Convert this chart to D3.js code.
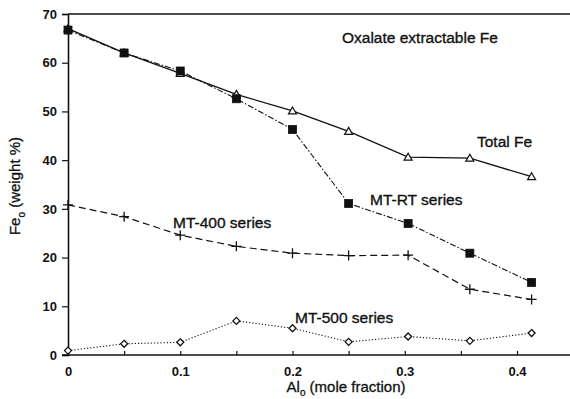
<!DOCTYPE html>
<html><head><meta charset="utf-8">
<script src="https://cdn.jsdelivr.net/npm/d3@7"></script>
<style>body{margin:0;background:#fff}svg{display:block}text{font-family:"Liberation Sans",Arial,sans-serif;fill:#111}</style>
</head><body><svg id="c" width="570" height="399"></svg>
<script>
const alFraction = [0, 0.05, 0.1, 0.15, 0.2, 0.25, 0.303, 0.358, 0.413];
const totalFe = [67.0, 62.0, 57.8, 53.5, 50.1, 45.9, 40.6, 40.4, 36.6];
const mtRT = [66.7, 62.0, 58.3, 52.6, 46.3, 31.1, 27.0, 20.9, 14.9];
const mt400 = [30.8, 28.4, 24.6, 22.3, 20.9, 20.4, 20.5, 13.5, 11.4];
const mt500 = [0.9, 2.3, 2.6, 7.0, 5.5, 2.7, 3.8, 2.9, 4.5];
const xTickLabels = [0, 0.1, 0.2, 0.3, 0.4];
const xMinorTicks = [0.05, 0.15, 0.25, 0.35];
const yTickLabels = [0, 10, 20, 30, 40, 50, 60, 70];

const svg = d3.select("#c");
const x = d3.scaleLinear().domain([0, 0.4]).range([68, 517]);
const y = d3.scaleLinear().domain([0, 70]).range([355, 14]);

svg.append("line").attr("x1", 68).attr("x2", 570).attr("y1", y(70)).attr("y2", y(70)).attr("stroke", "#111").attr("stroke-width", 1.6);

const yAxis = d3.axisLeft(y).tickValues(yTickLabels).tickSize(6).tickPadding(5).tickFormat(d3.format("d"));
const gy = svg.append("g").attr("transform", "translate(68,0)").call(yAxis);
gy.select(".domain").attr("stroke", "#111").attr("stroke-width", 1.6);
gy.selectAll(".tick line").attr("stroke", "#111").attr("stroke-width", 1.2);
gy.selectAll(".tick text").attr("font-size", 13).attr("font-weight", "bold").attr("font-family", "Liberation Sans, Arial, sans-serif").attr("fill", "#111");

const xAxis = d3.axisBottom(x).tickValues(xTickLabels.concat(xMinorTicks)).tickSize(-4).tickPadding(12)
  .tickFormat(d => xTickLabels.includes(d) ? (d === 0 ? "0" : d3.format(".1f")(d)) : "");
const gx = svg.append("g").attr("transform", "translate(0,355)").call(xAxis);
gx.select(".domain").remove();
gx.append("line").attr("x1", 62).attr("x2", 570).attr("stroke", "#111").attr("stroke-width", 1.6);
gx.selectAll(".tick line").attr("stroke", "#111").attr("stroke-width", 1.2);
gx.selectAll(".tick text").attr("font-size", 13).attr("font-weight", "bold").attr("font-family", "Liberation Sans, Arial, sans-serif").attr("fill", "#111");

const line = d3.line().x((d, i) => x(alFraction[i])).y(d => y(d));
const series = [
  {v: totalFe, dash: null, w: 1.3, m: "tri"},
  {v: mtRT, dash: "6,2,1.5,2", w: 1.1, m: "sq"},
  {v: mt400, dash: "7,4", w: 1.2, m: "plus"},
  {v: mt500, dash: "1.2,2", w: 1.1, m: "dia"}
];
series.forEach(s => {
  svg.append("path").attr("d", line(s.v)).attr("fill", "none").attr("stroke", "#111")
    .attr("stroke-width", s.w).attr("stroke-dasharray", s.dash);
});
series.forEach(s => {
  const g = svg.append("g");
  s.v.forEach((d, i) => {
    const cx = x(alFraction[i]), cy = y(d);
    if (s.m === "tri") {
      g.append("path").attr("d", `M${cx},${cy-4}L${cx+4},${cy+3}L${cx-4},${cy+3}Z`).attr("fill", "#fff").attr("stroke", "#111").attr("stroke-width", 1.2);
    } else if (s.m === "sq") {
      g.append("rect").attr("x", cx-4).attr("y", cy-4).attr("width", 8).attr("height", 8).attr("fill", "#111").attr("stroke", "#111").attr("stroke-width", 0.8);
    } else if (s.m === "plus") {
      g.append("path").attr("d", `M${cx-5},${cy}H${cx+5}M${cx},${cy-5}V${cy+5}`).attr("stroke", "#111").attr("stroke-width", 1.3);
    } else {
      g.append("path").attr("d", `M${cx},${cy-3.5}L${cx+3.5},${cy}L${cx},${cy+3.5}L${cx-3.5},${cy}Z`).attr("fill", "#fff").attr("stroke", "#111").attr("stroke-width", 1.3);
    }
  });
});

function label(t, px, py) {
  svg.append("text").attr("x", px).attr("y", py).attr("font-size", 15.5)
    .attr("stroke", "#111").attr("stroke-width", 0.35).text(t);
}
label("Oxalate extractable Fe", 342, 43);
label("Total Fe", 477, 147);
label("MT-RT series", 370, 205);
label("MT-400 series", 173, 228);
label("MT-500 series", 295, 323);

const yt = svg.append("text").attr("transform", "translate(20,186) rotate(-90)").attr("text-anchor", "middle").attr("font-size", 15)
  .attr("stroke", "#111").attr("stroke-width", 0.3);
yt.append("tspan").text("Fe");
yt.append("tspan").attr("font-size", 10).attr("dy", 5).text("o");
yt.append("tspan").attr("dy", -5).text(" (weight %)");

const xt = svg.append("text").attr("x", 346).attr("y", 392).attr("text-anchor", "middle").attr("font-size", 15)
  .attr("stroke", "#111").attr("stroke-width", 0.3);
xt.append("tspan").text("Al");
xt.append("tspan").attr("font-size", 10).attr("dy", 4).text("o");
xt.append("tspan").attr("dy", -4).text(" (mole fraction)");
</script></body></html>
